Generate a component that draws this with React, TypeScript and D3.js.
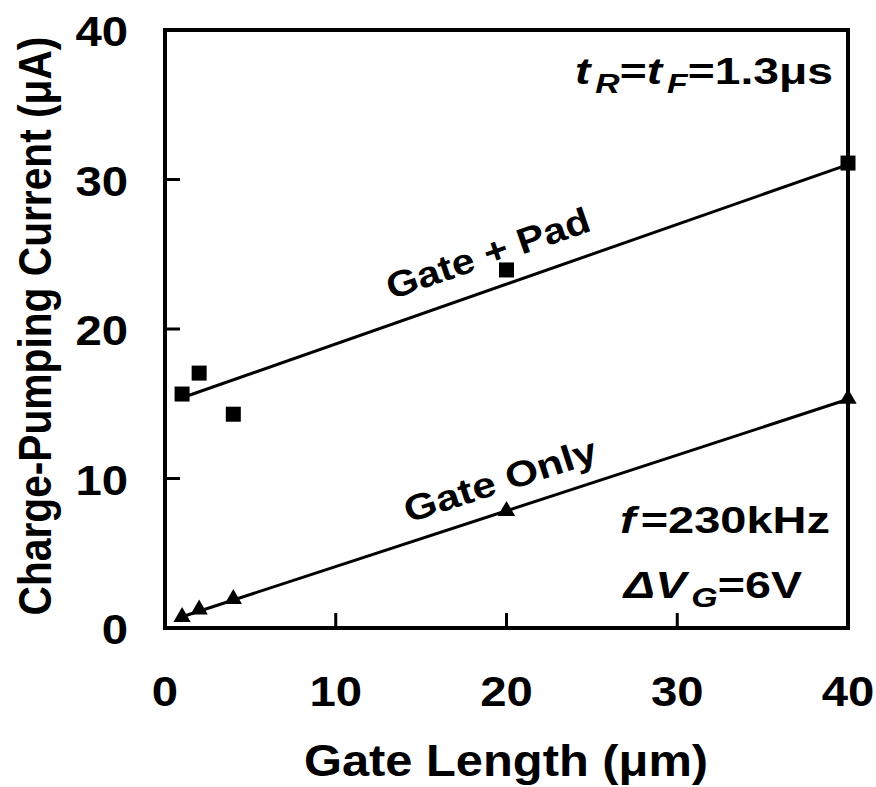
import React from "react";
import * as d3 from "d3";

const gateLength = [1, 2, 4, 20, 40];
const gatePadCurrent = [15.65, 17.05, 14.3, 23.95, 31.1];
const gateOnlyCurrent = [0.8, 1.3, 2.0, 7.9, 15.4];
const fitGatePad: [number, number][] = [[1, 15.4], [40, 31.0]];
const fitGateOnly: [number, number][] = [[1, 0.75], [40, 15.3]];
const xTicks = [0, 10, 20, 30, 40];
const yTicks = [0, 10, 20, 30, 40];

const W = 876, H = 787;
const L = 165, R = 848, T = 30, B = 628;
const FONT = "'Liberation Sans', Arial, sans-serif";

function Txt({ x, y, sx = 1, rot = 0, anchor = "start", size, children }: any) {
  return (
    <g transform={`translate(${x},${y}) rotate(${rot}) scale(${sx},1)`}>
      <text x={0} y={0} textAnchor={anchor} fontSize={size} fontWeight="bold">{children}</text>
    </g>
  );
}

export default function App() {
  const x = d3.scaleLinear().domain([0, 40]).range([L, R]);
  const y = d3.scaleLinear().domain([0, 40]).range([B, T]);
  const line = d3.line<[number, number]>().x(d => x(d[0])).y(d => y(d[1]));
  const sq = 15;
  const tri = d3.symbol().type(d3.symbolTriangle).size(130)();
  return (
    <svg width={W} height={H} style={{ position: "absolute", left: 0, top: 0, background: "#fff" }} fontFamily={FONT}>
      <rect x={0} y={0} width={W} height={H} fill="#fff" />
      <path d={line(fitGatePad) || ""} stroke="#000" strokeWidth={3} fill="none" />
      <path d={line(fitGateOnly) || ""} stroke="#000" strokeWidth={3} fill="none" />
      {gateLength.map((g, i) => (
        <rect key={"s" + i} x={x(g) - sq / 2} y={y(gatePadCurrent[i]) - sq / 2} width={sq} height={sq} fill="#000" />
      ))}
      {gateLength.map((g, i) => (
        <path key={"t" + i} d={tri || ""} transform={`translate(${x(g)},${y(gateOnlyCurrent[i]) + 1})`} fill="#000" />
      ))}
      {xTicks.slice(1, -1).map(t => (
        <line key={"xt" + t} x1={x(t)} x2={x(t)} y1={B} y2={B - 15} stroke="#000" strokeWidth={3} />
      ))}
      {yTicks.slice(1, -1).map(t => (
        <line key={"yt" + t} x1={L} x2={L + 15} y1={y(t)} y2={y(t)} stroke="#000" strokeWidth={3} />
      ))}
      <rect x={L} y={T} width={R - L} height={B - T} fill="none" stroke="#000" strokeWidth={4} />
      {xTicks.map(t => (
        <Txt key={"xl" + t} x={x(t)} y={706} anchor="middle" size={43} sx={1.1}>{t}</Txt>
      ))}
      {yTicks.map(t => (
        <Txt key={"yl" + t} x={128} y={y(t) + 16} anchor="end" size={43} sx={1.1}>{t}</Txt>
      ))}
      <Txt x={506} y={776} anchor="middle" size={44} sx={1.11}>Gate Length (μm)</Txt>
      <Txt x={51} y={326} rot={-90} anchor="middle" size={46} sx={0.885}>Charge-Pumping Current (μA)</Txt>
      <Txt x={492} y={265} rot={-19} anchor="middle" size={36} sx={1.14}>Gate + Pad</Txt>
      <Txt x={504} y={492} rot={-18} anchor="middle" size={36} sx={1.18}>Gate Only</Txt>
      <Txt x={833} y={84} anchor="end" size={37} sx={1.25}>
        <tspan fontStyle="italic">t</tspan>
        <tspan fontStyle="italic" fontSize={27} dx={4} dy={9}>R</tspan>
        <tspan dy={-9}>=</tspan>
        <tspan fontStyle="italic">t</tspan>
        <tspan fontStyle="italic" fontSize={27} dx={4} dy={9}>F</tspan>
        <tspan dy={-9}>=1.3μs</tspan>
      </Txt>
      <Txt x={830} y={533} anchor="end" size={37} sx={1.27}>
        <tspan fontStyle="italic">f</tspan>
        <tspan dx={4}>=230kHz</tspan>
      </Txt>
      <Txt x={802} y={598} anchor="end" size={37} sx={1.26}>
        <tspan fontStyle="italic">ΔV</tspan>
        <tspan fontStyle="italic" fontSize={27} dx={4} dy={9}>G</tspan>
        <tspan dy={-9}>=6V</tspan>
      </Txt>
    </svg>
  );
}
